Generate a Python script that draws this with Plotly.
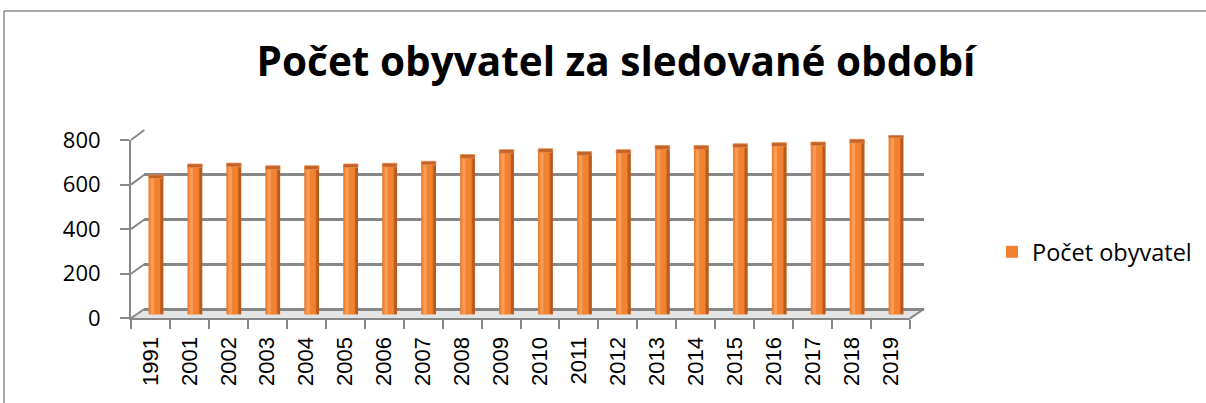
import plotly.graph_objects as go

# ---- data ----
years = ["1991", "2001", "2002", "2003", "2004", "2005", "2006", "2007", "2008", "2009",
         "2010", "2011", "2012", "2013", "2014", "2015", "2016", "2017", "2018", "2019"]
population = [615, 664, 668, 656, 656, 664, 667, 676, 706, 728,
              732, 719, 728, 746, 746, 754, 759, 762, 774, 797]
series_name = "Počet obyvatel"
title_text = "Počet obyvatel za sledované období"
y_ticks = [0, 200, 400, 600, 800]

W, H = 1206, 403


def X(px):
    return px / W


def Y(py):
    return 1 - py / H


# pixel geometry of the pseudo-3D box
FL, FR, F0, F800 = 131, 910, 318.3, 140.0      # front axes
BL, BR, B0, B800 = 144.3, 924, 309.0, 130.0    # back wall
ML, MR, M0, M800 = 136.5, 915.5, 314.5, 135.3  # mid depth (bars)

GRID = "#878787"
fig = go.Figure()

# front axes: carry the category + value ticks
fig.add_trace(go.Scatter(x=years, y=population, mode="lines", line=dict(width=0),
                         opacity=0, showlegend=False, hoverinfo="skip",
                         xaxis="x", yaxis="y"))
# back wall: gridlines
fig.add_trace(go.Scatter(x=years, y=population, mode="lines", line=dict(width=0),
                         opacity=0, showlegend=False, hoverinfo="skip",
                         xaxis="x2", yaxis="y2"))

# cylinders (mid depth axes), built from stripes for shading
half = 0.186
stripes = [
    (-half, 2 * half, "#CD6723", False),
    (-half, 0.29, "#F08232", True),
    (-0.135, 0.085, "#FA9C55", False),
    (0.125, half - 0.125, "#B9591B", False),
]
for off, wid, col, leg in stripes:
    fig.add_trace(go.Bar(x=years, y=population, offset=off, width=wid,
                         marker=dict(color=col, line=dict(width=0)),
                         name=series_name, showlegend=leg, hoverinfo="x+y",
                         xaxis="x3", yaxis="y3"))
# cylinder tops
cap = 16
fig.add_trace(go.Bar(x=years, y=[cap] * len(population), base=[v - cap / 2 for v in population],
                     offset=-half, width=2 * half,
                     marker=dict(color="#C0622A", line=dict(width=0.8, color="#E88A4A")),
                     showlegend=False, hoverinfo="skip", xaxis="x3", yaxis="y3"))

axis_common = dict(fixedrange=True, automargin=False)
fig.update_layout(
    template="none",
    width=W, height=H,
    margin=dict(l=0, r=0, t=0, b=0, pad=0),
    paper_bgcolor="white", plot_bgcolor="rgba(0,0,0,0)",
    barmode="overlay",
    title=dict(text=title_text, x=X(616), xanchor="center", y=Y(62), yanchor="middle",
               font=dict(family="Open Sans", size=40.5, color="#000000", weight="bold")),
    xaxis=dict(domain=[X(FL), X(FR)], type="category", categoryarray=years,
               range=[-0.5, len(years) - 0.5], showgrid=False, zeroline=False,
               showline=True, linecolor=GRID, linewidth=2,
               ticks="outside", tickson="boundaries", ticklen=9, tickcolor=GRID, tickwidth=2,
               tickangle=-90, ticklabelstandoff=8,
               tickfont=dict(family="Liberation Sans", size=22, color="#000000"),
               anchor="y", **axis_common),
    yaxis=dict(domain=[Y(F0), Y(F800)], range=[0, 800], tickvals=y_ticks,
               showgrid=False, zeroline=False, showline=True, linecolor=GRID, linewidth=2,
               ticks="outside", ticklen=9, tickcolor=GRID, tickwidth=2,
               ticklabelstandoff=15,
               tickfont=dict(family="Open Sans", size=22, color="#000000"),
               anchor="x", **axis_common),
    xaxis2=dict(domain=[X(BL), X(BR)], type="category", categoryarray=years,
                range=[-0.5, len(years) - 0.5], visible=False, anchor="y2", **axis_common),
    yaxis2=dict(domain=[Y(B0), Y(B800)], range=[0, 800.5], tickvals=y_ticks,
                showgrid=True, gridcolor=GRID, gridwidth=2.5,
                zeroline=True, zerolinecolor=GRID, zerolinewidth=2.5,
                showline=False, showticklabels=False, ticks="", anchor="x2", **axis_common),
    xaxis3=dict(domain=[X(ML), X(MR)], type="category", categoryarray=years,
                range=[-0.5, len(years) - 0.5], visible=False, anchor="y3", **axis_common),
    yaxis3=dict(domain=[Y(M0), Y(M800)], range=[0, 800], visible=False, anchor="x3",
                **axis_common),
    legend=dict(x=X(992), xanchor="left", y=Y(252), yanchor="middle",
                font=dict(family="Open Sans", size=23.5, color="#000000"),
                bgcolor="rgba(0,0,0,0)", borderwidth=0),
    showlegend=True,
)

shapes = []
# floor
shapes.append(dict(type="path", xref="paper", yref="paper", layer="below",
                   path=f"M {X(FL)} {Y(F0)} L {X(FR)} {Y(F0)} L {X(BR)} {Y(B0)} L {X(BL)} {Y(B0)} Z",
                   fillcolor="#E4E4E4", line=dict(width=0)))
# connectors between front ticks and back wall gridlines
for v in y_ticks:
    yf = F0 + (F800 - F0) * v / 800
    yb = B0 + (B800 - B0) * v / 800
    shapes.append(dict(type="line", xref="paper", yref="paper",
                       x0=X(FL), y0=Y(yf), x1=X(BL), y1=Y(yb),
                       line=dict(color=GRID, width=2)))
# floor right edge
shapes.append(dict(type="line", xref="paper", yref="paper",
                   x0=X(FR), y0=Y(F0), x1=X(BR), y1=Y(B0), line=dict(color=GRID, width=2)))
# chart border (top and left visible)
shapes.append(dict(type="line", xref="paper", yref="paper",
                   x0=X(4), y0=Y(11), x1=1, y1=Y(11), line=dict(color="#8C8C8C", width=1.5)))
shapes.append(dict(type="line", xref="paper", yref="paper",
                   x0=X(4), y0=Y(11), x1=X(4), y1=0, line=dict(color="#8C8C8C", width=1.5)))
fig.update_layout(shapes=shapes)

fig.write_html("out.html", config={"displayModeBar": False},
               post_script="document.body.style.margin='0';document.body.style.overflow='hidden';")
